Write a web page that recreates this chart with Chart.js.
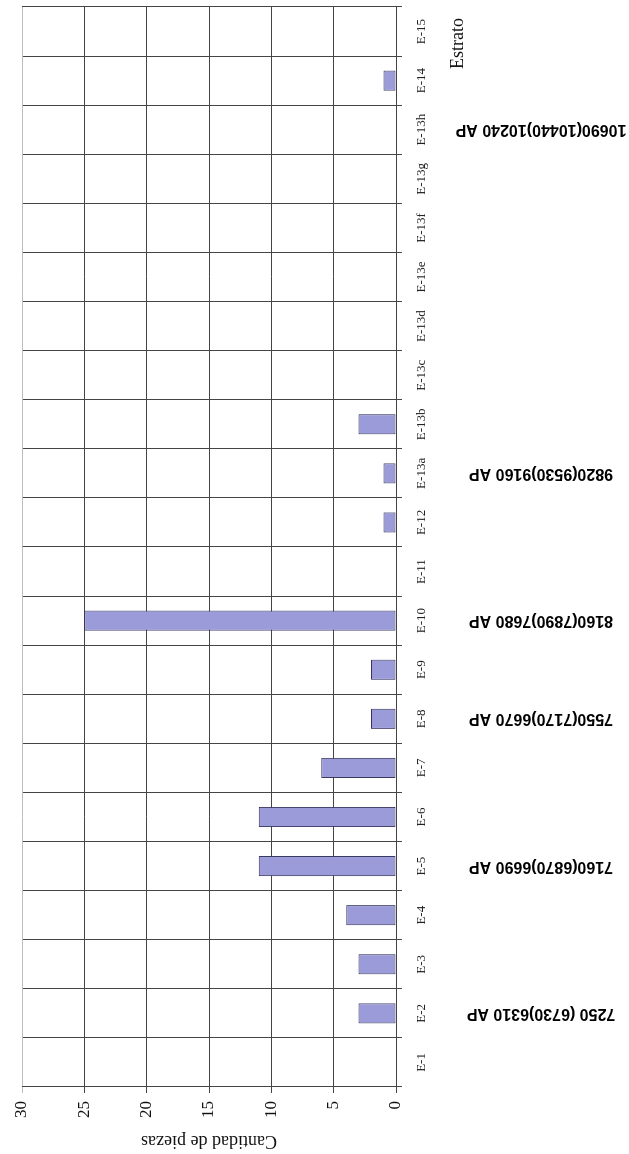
<!DOCTYPE html>
<html>
<head>
<meta charset="utf-8">
<script src="https://cdn.jsdelivr.net/npm/chart.js@4"></script>
<style>
  html, body { margin: 0; padding: 0; background: #fff; }
  #page { position: relative; width: 629px; height: 1154px; overflow: hidden; background: #fff; }
  /* the chart is laid out landscape and turned a quarter-turn counter-clockwise */
  #turn { position: absolute; left: 0; top: 0; width: 1154px; height: 629px;
          transform-origin: 0 0; transform: translateY(1154px) rotate(-90deg); }
</style>
</head>
<body>
<div id="page"><div id="turn"><canvas id="c" width="1154" height="629"></canvas></div></div>
<script>
// Estratos
const estratos = ['E-1','E-2','E-3','E-4','E-5','E-6','E-7','E-8','E-9','E-10','E-11','E-12',
  'E-13a','E-13b','E-13c','E-13d','E-13e','E-13f','E-13g','E-13h','E-14','E-15'];
// Cantidad de piezas por estrato
const piezas = [0,3,3,4,11,11,6,2,2,25,0,1,1,3,0,0,0,0,0,0,1,0];
// Fechas radiocarbónicas asociadas a algunos estratos
const fechas = ['', '7250 (6730)6310 AP', '', '', '7160(6870)6690 AP', '', '', '7550(7170)6670 AP', '',
  '8160(7890)7680 AP', '', '', '9820(9530)9160 AP', '', '', '', '', '', '', '10690(10440)10240 AP', '', ''];
// Escala de valores
const escalaMin = 0, escalaMax = 30, escalaPaso = 5;

const dark = '#444444', light = '#bdbdbd';
const serif = '"Liberation Serif", "Times New Roman", serif';

// radiocarbon dates written vertically under the strata labels
const fechasPlugin = {
  id: 'fechas',
  afterDraw(chart) {
    const ctx = chart.ctx, xs = chart.scales.x;
    ctx.save();
    ctx.fillStyle = '#000';
    ctx.font = 'bold 16px "Liberation Sans", Arial, sans-serif';
    ctx.textAlign = 'center';
    ctx.textBaseline = 'middle';
    fechas.forEach((t, i) => {
      if (!t) return;
      ctx.save();
      ctx.translate(xs.getPixelForValue(i), 541);
      ctx.rotate(-Math.PI / 2);
      ctx.fillText(t, 0, 0);
      ctx.restore();
    });
    ctx.restore();
  }
};

new Chart(document.getElementById('c'), {
  type: 'bar',
  data: {
    labels: estratos,
    datasets: [{
      data: piezas,
      backgroundColor: '#9b9bd9',
      borderColor: '#34345e',
      borderWidth: 1,
      borderSkipped: false,
      categoryPercentage: 1,
      barPercentage: 0.41
    }]
  },
  options: {
    responsive: false,
    devicePixelRatio: 1,
    animation: false,
    layout: { padding: { top: 22, right: 7, left: 0, bottom: 161 } },
    plugins: { legend: { display: false }, tooltip: { enabled: false } },
    scales: {
      x: {
        offset: true,
        grid: {
          offset: true,
          tickLength: 6,
          color: (c) => c.index === estratos.length ? light : dark,
          lineWidth: 1
        },
        border: { color: dark },
        ticks: {
          color: '#222',
          padding: 12,
          maxRotation: 0,
          autoSkip: false,
          font: { family: serif, size: 13 }
        },
        title: { display: false },
        afterFit(s) { s.height = 72; }
      },
      y: {
        min: escalaMin,
        max: escalaMax,
        ticks: {
          stepSize: escalaPaso,
          color: '#111',
          padding: 8,
          font: { family: serif, size: 17 }
        },
        grid: {
          tickLength: 6,
          color: (c) => (c.tick && c.tick.value === escalaMax) ? light : dark,
          lineWidth: 1
        },
        border: { color: dark },
        title: {
          display: true,
          text: 'Cantidad de piezas',
          color: '#111',
          padding: { top: 2, bottom: 0 },
          font: { family: serif, size: 18 }
        },
        afterFit(s) { s.width = 67; }
      }
    }
  },
  plugins: [fechasPlugin, {
    // category axis title, set just short of the axis end
    id: 'tituloEstrato',
    afterDraw(chart) {
      const ctx = chart.ctx, area = chart.chartArea;
      ctx.save();
      ctx.fillStyle = '#111';
      ctx.font = '18px ' + serif;
      ctx.textAlign = 'right';
      ctx.textBaseline = 'middle';
      ctx.fillText('Estrato', area.right - 11, 458);
      ctx.restore();
    }
  }]
});
</script>
</body>
</html>
